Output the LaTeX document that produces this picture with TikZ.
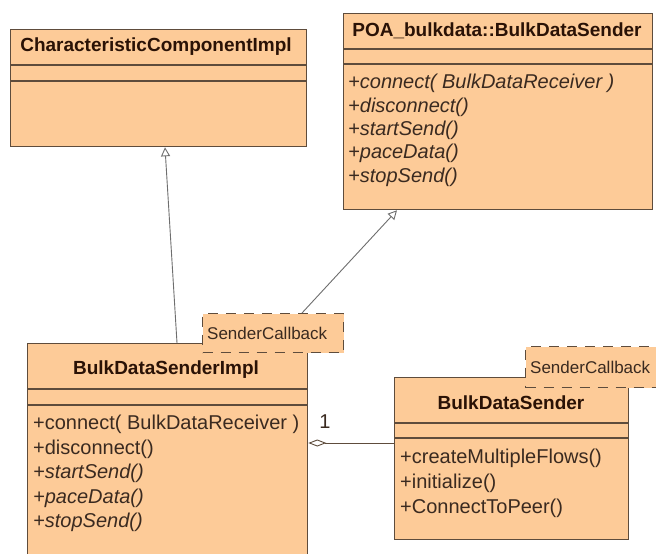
\documentclass[tikz,border=0pt]{standalone}
\usepackage{fontspec}
\setmainfont{Liberation Sans}
\usetikzlibrary{arrows.meta}
\definecolor{classfill}{HTML}{FDCB98}
\definecolor{classline}{HTML}{5E4C3C}
\definecolor{titletext}{HTML}{2A1206}
\definecolor{membertext}{HTML}{3A2A20}
\definecolor{arrowgray}{HTML}{6E6E6E}
\tikzset{
  classbox/.style={draw=classline, fill=classfill, line width=1.3pt, anchor=north west, inner sep=0pt},
  notebox/.style={draw=classline, fill=classfill, dash pattern=on 10pt off 8pt, line width=1.3pt, anchor=north west, inner sep=0pt},
  sepline/.style={draw=classline, line width=1.3pt},
  classtitle/.style={font=\fontsize{19}{22}\selectfont\bfseries, text=titletext, inner sep=0pt},
  member/.style={font=\fontsize{20}{22}\selectfont, text=membertext, inner sep=0pt, anchor=base west},
  imember/.style={member, font=\fontsize{20}{22}\selectfont\itshape},
  notetext/.style={font=\fontsize{17}{20}\selectfont, text=membertext, inner sep=0pt, anchor=base west},
  gen/.style={draw=arrowgray, line width=0.9pt, -{Triangle[open, length=9pt, width=9pt]}},
  agg/.style={draw=classline, line width=0.9pt, {Diamond[open, length=18pt, width=7pt]}-},
}
\begin{document}
\begin{tikzpicture}[x=1pt,y=-1pt]
\useasboundingbox[fill=white] (0,0) rectangle (656,554);

% CharacteristicComponentImpl
\node[classbox, minimum width=296pt, minimum height=117pt] (cci) at (10,29) {};
\draw[sepline] (cci.west |- 0,65) -- (cci.east |- 0,65);
\draw[sepline] (cci.west |- 0,81) -- (cci.east |- 0,81);
\node[classtitle] (ccititle) at (156,47) {CharacteristicComponentImpl};

% POA_bulkdata::BulkDataSender
\node[classbox, minimum width=309pt, minimum height=196pt] (poa) at (343,13) {};
\draw[sepline] (poa.west |- 0,49) -- (poa.east |- 0,49);
\draw[sepline] (poa.west |- 0,64) -- (poa.east |- 0,64);
\node[classtitle] (poatitle) at (497,31) {POA\_bulkdata::BulkDataSender};
\node[imember] (poam1) at (348,88) {+connect( BulkDataReceiver )};
\node[imember] (poam2) at (348,112) {+disconnect()};
\node[imember] (poam3) at (348,135) {+startSend()};
\node[imember] (poam4) at (348,158) {+paceData()};
\node[imember] (poam5) at (348,182) {+stopSend()};

% BulkDataSenderImpl
\node[classbox, minimum width=280pt, minimum height=220pt] (impl) at (27,343) {};
\draw[sepline] (impl.west |- 0,389) -- (impl.east |- 0,389);
\draw[sepline] (impl.west |- 0,405) -- (impl.east |- 0,405);
\node[classtitle] (impltitle) at (166,370) {BulkDataSenderImpl};
\node[member] (implm1) at (33,429) {+connect( BulkDataReceiver )};
\node[member] (implm2) at (33,454) {+disconnect()};
\node[imember] (implm3) at (33,478) {+startSend()};
\node[imember] (implm4) at (33,503) {+paceData()};
\node[imember] (implm5) at (33,527) {+stopSend()};

% note on BulkDataSenderImpl
\node[notebox, minimum width=141pt, minimum height=39pt] (note1) at (202,313) {};
\node[notetext] (note1text) at (207,339) {SenderCallback};

% BulkDataSender
\node[classbox, minimum width=234pt, minimum height=162pt] (bds) at (394,377) {};
\draw[sepline] (bds.west |- 0,423) -- (bds.east |- 0,423);
\draw[sepline] (bds.west |- 0,438) -- (bds.east |- 0,438);
\node[classtitle] (bdstitle) at (511,403) {BulkDataSender};
\node[member] (bdsm1) at (400,463) {+createMultipleFlows()};
\node[member] (bdsm2) at (400,488) {+initialize()};
\node[member] (bdsm3) at (400,513) {+ConnectToPeer()};

% note on BulkDataSender
\node[notebox, minimum width=140pt, minimum height=41pt] (note2) at (525,346) {};
\node[notetext] (note2text) at (530,373) {SenderCallback};

% connectors
\draw[gen] (impl.north -| 177,0) -- (cci.south -| 165,0);
\draw[gen] (note1.north -| 302,0) -- (poa.south -| 397,0);
\draw[agg] (impl.east |- 0,443) -- (bds.west |- 0,443);
\node[member, anchor=center] (mult) at (325,422) {1};
\end{tikzpicture}
\end{document}
